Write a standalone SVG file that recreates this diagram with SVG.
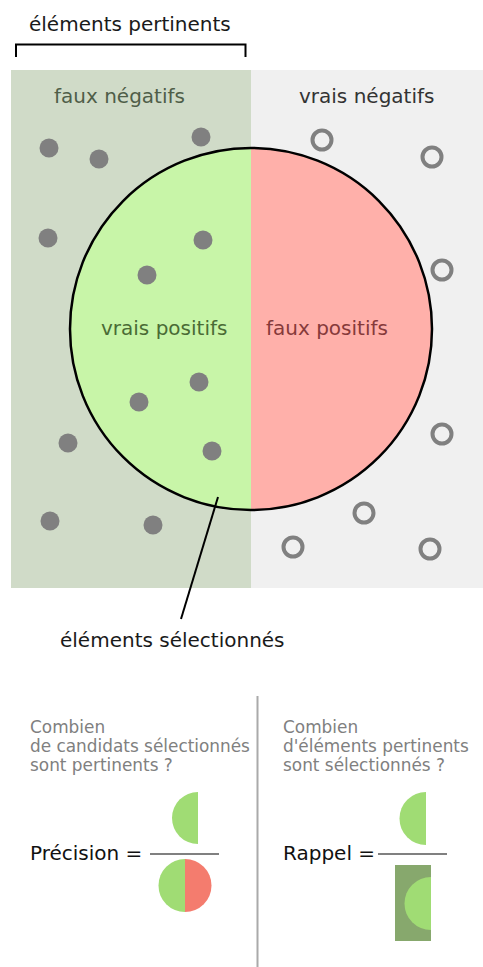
<svg xmlns="http://www.w3.org/2000/svg" width="483" height="967" viewBox="0 0 483 967">
<style>
text{font-family:"DejaVu Sans","Liberation Sans",sans-serif}
.big{font-size:20px}
.q{font-size:16.9px;fill:#808080}
.dot{fill:#808080}
.ring{fill:none;stroke:#808080;stroke-width:4}
.lg{fill:#a0dc74}
</style>
<rect width="483" height="967" fill="#ffffff"/>
<g id="title">
<text x="29" y="31" class="big" fill="#1a1a1a">éléments pertinents</text>
<path d="M16 57 V44.5 H245.5 V57" fill="none" stroke="#000" stroke-width="2"/>
</g>
<g id="region-relevant">
<rect x="11" y="70" width="240" height="518" fill="#d0dbc8"/>
<text x="54" y="103" class="big" fill="#4f5e48">faux négatifs</text>
</g>
<g id="region-irrelevant">
<rect x="251" y="70" width="232" height="518" fill="#f0f0f0"/>
<text x="299" y="103" class="big" fill="#333333">vrais négatifs</text>
</g>
<g id="selected-circle">
<path d="M251 148 A181 181 0 0 0 251 510 Z" fill="#c8f5a8"/>
<path d="M251 148 A181 181 0 0 1 251 510 Z" fill="#ffb0aa"/>
<circle cx="251" cy="329" r="181" fill="none" stroke="#000" stroke-width="2.5"/>
<text x="101" y="335" class="big" fill="#4a6b35">vrais positifs</text>
<text x="266" y="335" class="big" fill="#863a3a">faux positifs</text>
</g>
<g id="relevant-dots">
<circle class="dot" cx="49" cy="148" r="9.5"/>
<circle class="dot" cx="99" cy="159" r="9.5"/>
<circle class="dot" cx="201" cy="137" r="9.5"/>
<circle class="dot" cx="48" cy="238" r="9.5"/>
<circle class="dot" cx="203" cy="240" r="9.5"/>
<circle class="dot" cx="147" cy="275" r="9.5"/>
<circle class="dot" cx="199" cy="382" r="9.5"/>
<circle class="dot" cx="139" cy="402" r="9.5"/>
<circle class="dot" cx="68" cy="443" r="9.5"/>
<circle class="dot" cx="212" cy="451" r="9.5"/>
<circle class="dot" cx="50" cy="521" r="9.5"/>
<circle class="dot" cx="153" cy="525" r="9.5"/>
</g>
<g id="irrelevant-rings">
<circle class="ring" cx="322" cy="140" r="9.5"/>
<circle class="ring" cx="432" cy="157" r="9.5"/>
<circle class="ring" cx="442" cy="270" r="9.5"/>
<circle class="ring" cx="442" cy="434" r="9.5"/>
<circle class="ring" cx="364" cy="513" r="9.5"/>
<circle class="ring" cx="293" cy="547" r="9.5"/>
<circle class="ring" cx="430" cy="549" r="9.5"/>
</g>
<g id="connectors">
<line x1="218" y1="497" x2="181" y2="619" stroke="#000" stroke-width="2"/>
</g>
<g id="selected-label">
<text x="60" y="647" class="big" fill="#1a1a1a">éléments sélectionnés</text>
</g>
<g id="divider">
<line x1="257.5" y1="696" x2="257.5" y2="967" stroke="#aaaaaa" stroke-width="2"/>
</g>
<g id="precision">
<text class="q" x="30" y="733">Combien</text>
<text class="q" x="30" y="752">de candidats sélectionnés</text>
<text class="q" x="30" y="771">sont pertinents ?</text>
<text x="30" y="860" class="big" fill="#111">Précision =</text>
<path d="M198 792 A26 26 0 0 0 198 844 Z" class="lg"/>
<line x1="150" y1="854" x2="219" y2="854" stroke="#808080" stroke-width="2.2"/>
<path d="M185 859 A26.5 26.5 0 0 0 185 912 Z" class="lg"/>
<path d="M185 859 A26.5 26.5 0 0 1 185 912 Z" fill="#f47c6e"/>
</g>
<g id="recall">
<text class="q" x="283" y="733">Combien</text>
<text class="q" x="283" y="752">d'éléments pertinents</text>
<text class="q" x="283" y="771">sont sélectionnés ?</text>
<text x="283" y="860" class="big" fill="#111">Rappel =</text>
<path d="M426 792 A26 26 0 0 0 426 845 Z" class="lg"/>
<line x1="378" y1="854" x2="447" y2="854" stroke="#808080" stroke-width="2.2"/>
<rect x="395" y="865" width="36" height="76" fill="#87a86d"/>
<path d="M431 877 A26.5 26.5 0 0 0 431 930 Z" class="lg"/>
</g>
</svg>
